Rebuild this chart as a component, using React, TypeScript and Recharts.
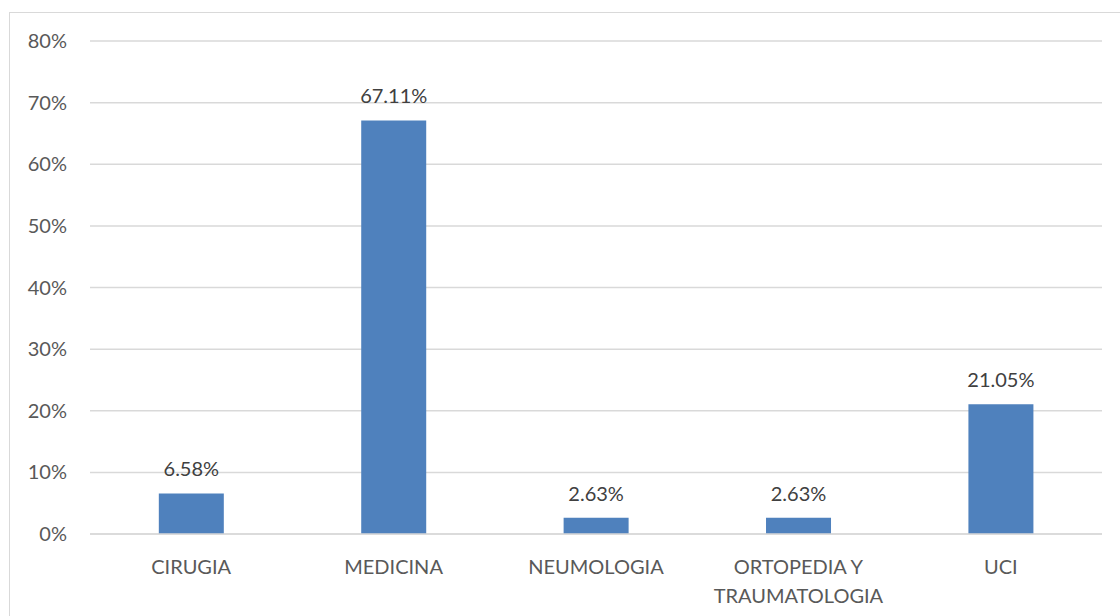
import React from 'react';
import { BarChart, Bar, XAxis, YAxis, CartesianGrid, LabelList } from 'recharts';

const categories = ['CIRUGIA', 'MEDICINA', 'NEUMOLOGIA', 'ORTOPEDIA Y TRAUMATOLOGIA', 'UCI'];
const values = [6.58, 67.11, 2.63, 2.63, 21.05];
const yTicks = [0, 10, 20, 30, 40, 50, 60, 70, 80];

const data = categories.map((name, i) => ({ name, value: values[i] }));

const FONT = 'Lato, "Open Sans", sans-serif';

const XTick = (props: any) => {
  const { x, y, payload } = props;
  const label: string = payload.value;
  let lines = [label];
  if (label.length > 14) {
    const idx = label.lastIndexOf(' ');
    lines = [label.slice(0, idx), label.slice(idx + 1)];
  }
  return (
    <text x={x} y={y} textAnchor="middle" fill="#595959" fontSize={20} fontFamily={FONT}>
      {lines.map((l, i) => (
        <tspan key={i} x={x} dy={i === 0 ? 32 : 29}>{l}</tspan>
      ))}
    </text>
  );
};

export default function App() {
  return (
    <div style={{ position: 'absolute', left: 0, top: 0, width: 1120, height: 616, overflow: 'hidden', background: '#fff' }}>
      <div style={{ position: 'absolute', left: 9, top: 12, width: 1140, height: 640, border: '1px solid #D9D9D9', boxSizing: 'border-box' }} />
      <div style={{ position: 'absolute', left: 0, top: 0 }}>
        <BarChart
          width={1120}
          height={616}
          data={data}
          margin={{ top: 41, right: 18, bottom: 0, left: 10 }}
          barCategoryGap="34%"
        >
          <CartesianGrid vertical={false} stroke="#D9D9D9" strokeWidth={1.5} />
          <XAxis
            dataKey="name"
            height={82}
            axisLine={{ stroke: '#D9D9D9', strokeWidth: 1.5 }}
            tickLine={false}
            tick={<XTick />}
            interval={0}
          />
          <YAxis
            width={80}
            domain={[0, 80]}
            ticks={yTicks}
            axisLine={false}
            tickLine={false}
            tickSize={0}
            tickMargin={23}
            tickFormatter={(v: number) => `${v}%`}
            tick={{ fill: '#595959', fontSize: 20, fontFamily: FONT }}
          />
          <Bar dataKey="value" fill="#4F81BD" isAnimationActive={false}>
            <LabelList
              dataKey="value"
              position="top"
              offset={17}
              formatter={(v: number) => `${v.toFixed(2)}%`}
              style={{ fill: '#404040', fontSize: 20, fontFamily: FONT }}
            />
          </Bar>
        </BarChart>
      </div>
    </div>
  );
}
